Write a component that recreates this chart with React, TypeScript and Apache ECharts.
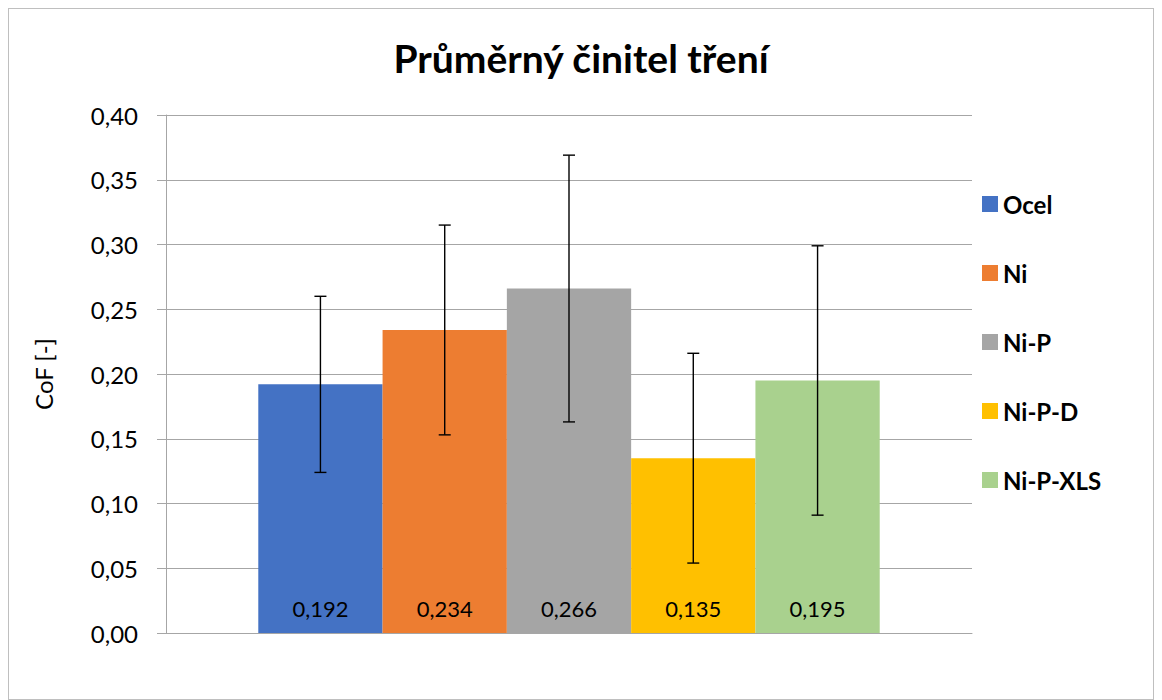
import React, { useEffect, useRef } from "react";
import * as echarts from "echarts";

const categories = ["CoF"];
const seriesNames = ["Ocel", "Ni", "Ni-P", "Ni-P-D", "Ni-P-XLS"];
const meanValues = [0.192, 0.234, 0.266, 0.135, 0.195];
const errorValues = [0.068, 0.081, 0.103, 0.081, 0.104];
const seriesColors = ["#4472C4", "#ED7D31", "#A5A5A5", "#FFC000", "#A9D18E"];
const yMin = 0;
const yMax = 0.4;
const yInterval = 0.05;

const GAP = 0.229;
const FONT = "Lato, 'Open Sans', sans-serif";

export default function App() {
  const ref = useRef<HTMLDivElement>(null);
  useEffect(() => {
    if (!ref.current) return;
    const chart = echarts.init(ref.current, null, { renderer: "svg" });
    const fmt = (v: number, d: number) => v.toFixed(d).replace(".", ",");
    const barSeries = seriesNames.map((name, i) => ({
      name,
      type: "bar",
      data: [meanValues[i]],
      barGap: "0%",
      barCategoryGap: GAP * 100 + "%",
      itemStyle: { color: seriesColors[i] },
      label: {
        show: true,
        position: "insideBottom",
        distance: 14,
        formatter: (p: any) => fmt(p.value, 3),
        color: "#000",
        fontSize: 22,
        fontFamily: FONT,
      },
      z: 2,
    }));
    const errData = seriesNames.map((_, i) => [
      0,
      meanValues[i] - errorValues[i],
      meanValues[i] + errorValues[i],
      i,
    ]);
    const errorSeries = {
      name: "error",
      type: "custom",
      data: errData,
      encode: { x: 0, y: [1, 2] },
      z: 10,
      renderItem: (params: any, api: any) => {
        const idx = api.value(3);
        const lo = api.coord([0, api.value(1)]);
        const hi = api.coord([0, api.value(2)]);
        const band = api.size([1, 0])[0];
        const area = band * (1 - GAP);
        const bw = area / seriesNames.length;
        const cx = lo[0] - area / 2 + bw * (idx + 0.5);
        const style = { stroke: "#000", lineWidth: 1.4 };
        const cap = 6;
        return {
          type: "group",
          children: [
            { type: "line", shape: { x1: cx, y1: lo[1], x2: cx, y2: hi[1] }, style },
            { type: "line", shape: { x1: cx - cap, y1: lo[1], x2: cx + cap, y2: lo[1] }, style },
            { type: "line", shape: { x1: cx - cap, y1: hi[1], x2: cx + cap, y2: hi[1] }, style },
          ],
        };
      },
    };
    chart.setOption({
      animation: false,
      backgroundColor: "#fff",
      title: {
        text: "Průměrný činitel tření",
        left: "center",
        top: 24,
        textStyle: { fontFamily: FONT, fontSize: 39, fontWeight: "bold", color: "#000" },
      },
      legend: {
        data: seriesNames,
        orient: "vertical",
        left: 968,
        top: 178,
        itemWidth: 16,
        itemHeight: 16,
        itemGap: 45,
        icon: "rect",
        textStyle: { fontFamily: FONT, fontSize: 24, fontWeight: "bold", color: "#000" },
      },
      grid: { left: 157, right: 181, top: 106, bottom: 66 },
      xAxis: {
        type: "category",
        data: categories,
        axisLine: { lineStyle: { color: "#a6a6a6", width: 1 } },
        axisTick: { show: false },
        axisLabel: { show: false },
      },
      yAxis: {
        type: "value",
        min: yMin,
        max: yMax,
        interval: yInterval,
        name: "CoF [-]",
        nameLocation: "middle",
        nameGap: 111,
        nameTextStyle: { fontFamily: FONT, fontSize: 24, color: "#000" },
        axisLine: { show: true, lineStyle: { color: "#a6a6a6" } },
        axisTick: { show: true, length: 9, lineStyle: { color: "#a6a6a6" } },
        axisLabel: {
          margin: 28,
          fontFamily: FONT,
          fontSize: 24,
          color: "#000",
          formatter: (v: number) => fmt(v, 2),
        },
        splitLine: { lineStyle: { color: "#a6a6a6" } },
      },
      series: [...barSeries, errorSeries],
    });
    return () => chart.dispose();
  }, []);
  return (
    <div
      style={{ width: 1146, height: 692, border: "1px solid #bfbfbf", boxSizing: "border-box", background: "#fff" }}
    >
      <div ref={ref} style={{ width: 1144, height: 690 }} />
    </div>
  );
}
